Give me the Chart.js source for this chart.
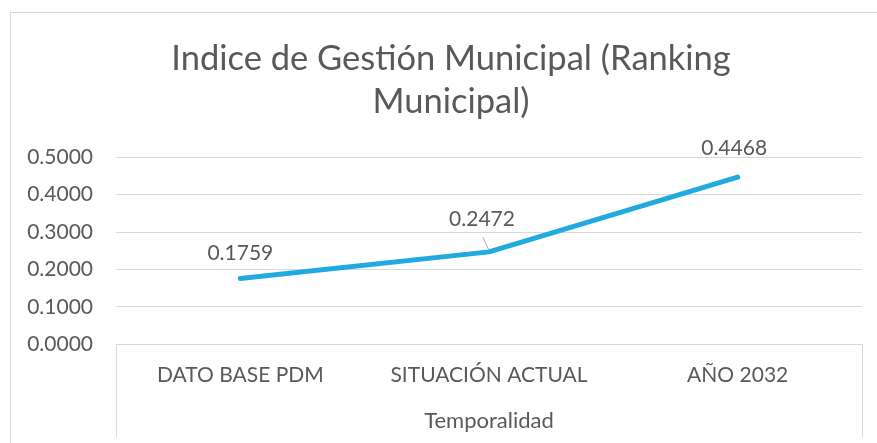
<!DOCTYPE html>
<html>
<head>
<meta charset="utf-8">
<script src="https://cdn.jsdelivr.net/npm/chart.js@4/dist/chart.umd.min.js"></script>
<style>
  html, body { margin: 0; padding: 0; background: #ffffff; }
  #wrap { position: relative; width: 877px; height: 443px; overflow: hidden; }
  #frame { position: absolute; left: 10px; top: 12px; width: 900px; height: 500px; border: 1px solid #d9d9d9; box-sizing: border-box; }
  #c { position: absolute; left: 0; top: 0; }
</style>
</head>
<body>
<div id="wrap">
  <div id="frame"></div>
  <canvas id="c" width="877" height="443"></canvas>
</div>
<script>
const chartTitle = ['Indice de Gestión Municipal (Ranking', 'Municipal)'];
const categories = ['DATO BASE PDM', 'SITUACIÓN ACTUAL', 'AÑO 2032'];
const indexValues = [0.1759, 0.2472, 0.4468];
const xAxisTitle = 'Temporalidad';
const yTicks = { min: 0, max: 0.5, step: 0.1 };

const TEXT = '#595959';
const GRID = '#d9d9d9';
const FONT = 'Lato';

// label offsets relative to each point (style only)
const labelOffsets = [[0, -25], [-7, -33], [-3.5, -28.5]];

const dataLabels = {
  id: 'dataLabels',
  afterDatasetsDraw(chart) {
    const ctx = chart.ctx;
    const meta = chart.getDatasetMeta(0);
    ctx.save();
    ctx.font = '21px ' + FONT;
    ctx.fillStyle = TEXT;
    ctx.textAlign = 'center';
    ctx.textBaseline = 'middle';
    meta.data.forEach((pt, i) => {
      const [dx, dy] = labelOffsets[i];
      const lx = pt.x + dx, ly = pt.y + dy;
      ctx.fillText(indexValues[i].toFixed(4), lx, ly);
      if (i === 1) {
        ctx.strokeStyle = '#a6a6a6';
        ctx.lineWidth = 1;
        ctx.beginPath();
        ctx.moveTo(lx + 1, ly + 18.5);
        ctx.lineTo(pt.x, pt.y - 1.5);
        ctx.stroke();
      }
    });
    ctx.restore();
  }
};

// box edges of the category axis (drawn from the scale's own bounds)
const categoryBox = {
  id: 'categoryBox',
  afterDraw(chart) {
    const x = chart.scales.x;
    const ctx = chart.ctx;
    ctx.save();
    ctx.strokeStyle = GRID;
    ctx.lineWidth = 1;
    ctx.beginPath();
    [x.left, x.right].forEach((px) => {
      const xx = Math.round(px) + 0.5;
      ctx.moveTo(xx, x.top);
      ctx.lineTo(xx, x.bottom + 3);
    });
    ctx.stroke();
    ctx.restore();
  }
};

new Chart(document.getElementById('c'), {
  type: 'line',
  data: {
    labels: categories,
    datasets: [{
      data: indexValues,
      borderColor: '#21a9e1',
      borderWidth: 5,
      borderCapStyle: 'round',
      borderJoinStyle: 'round',
      pointRadius: 0,
      pointHoverRadius: 0,
      tension: 0,
      fill: false
    }]
  },
  options: {
    responsive: false,
    animation: false,
    events: [],
    layout: { padding: { left: 26, right: 1, top: 0, bottom: 9 } },
    plugins: {
      legend: { display: false },
      tooltip: { enabled: false },
      title: {
        display: true,
        text: chartTitle,
        color: TEXT,
        font: { family: FONT, size: 34.5, weight: 'normal', lineHeight: 1.25 },
        padding: { top: 37, bottom: 34 }
      }
    },
    scales: {
      x: {
        offset: true,
        border: { display: true, color: GRID, width: 1 },
        grid: { display: false, drawTicks: false },
        ticks: {
          color: TEXT,
          padding: 18,
          maxRotation: 0,
          autoSkip: false,
          font: { family: FONT, size: 21, lineHeight: 1.2 }
        },
        title: {
          display: true,
          text: xAxisTitle,
          color: TEXT,
          font: { family: FONT, size: 22, lineHeight: 1.2 },
          padding: { top: 2, bottom: 0 }
        }
      },
      y: {
        min: yTicks.min,
        max: yTicks.max,
        afterFit(scale) { scale.width = 90; },
        border: { display: false },
        grid: { color: GRID, lineWidth: 1, drawTicks: false },
        ticks: {
          stepSize: yTicks.step,
          color: TEXT,
          padding: 23,
          font: { family: FONT, size: 21 },
          callback: (v) => Number(v).toFixed(4)
        }
      },
      yRightSpace: {
        type: 'linear',
        position: 'right',
        display: true,
        afterFit(scale) { scale.width = 14; },
        border: { display: false },
        grid: { display: false, drawTicks: false },
        ticks: { display: false }
      }
    }
  },
  plugins: [dataLabels, categoryBox]
});
</script>
</body>
</html>
